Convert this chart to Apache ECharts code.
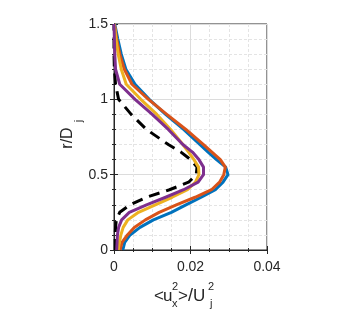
<!DOCTYPE html>
<html>
<head>
<meta charset="utf-8">
<script src="https://cdn.jsdelivr.net/npm/echarts@6/dist/echarts.min.js"></script>
<style>
html,body{margin:0;padding:0;background:#fff;}
#c{width:358px;height:311px;}
</style>
</head>
<body>
<div id="c"></div>
<script>
// radial positions r/Dj (shared by all series)
const rVals = [0,0.05,0.1,0.15,0.2,0.25,0.3,0.35,0.4,0.45,0.5,0.55,0.6,0.65,0.7,0.8,0.9,1.0,1.1,1.2,1.3,1.4,1.5];
// <ux^2>/Uj^2 for each profile
const blueVals   = [0.0023,0.0028,0.0042,0.0068,0.0103,0.0150,0.0188,0.0228,0.0265,0.0285,0.0298,0.0292,0.0268,0.0246,0.0225,0.0182,0.0135,0.0092,0.0055,0.0031,0.0019,0.0010,0.0002];
const orangeVals = [0.0016,0.0021,0.0035,0.0053,0.0082,0.0118,0.0163,0.0212,0.0255,0.0276,0.0287,0.0291,0.0278,0.0256,0.0234,0.0188,0.0138,0.0090,0.0047,0.0027,0.0015,0.0007,0.0001];
const yellowVals = [0.0011,0.0014,0.0018,0.0024,0.0036,0.0064,0.0108,0.0152,0.0192,0.0213,0.0222,0.0221,0.0209,0.0195,0.0180,0.0148,0.0112,0.0070,0.0032,0.0019,0.0011,0.0005,0.0001];
const purpleVals = [0.0007,0.0008,0.0009,0.0012,0.0020,0.0040,0.0085,0.0135,0.0182,0.0220,0.0234,0.0234,0.0222,0.0205,0.0180,0.0142,0.0100,0.0055,0.0015,0.0004,0.0002,0.0001,0.0000];
const blackVals  = [0.0003,0.0003,0.0003,0.0004,0.0006,0.0015,0.0042,0.0085,0.0145,0.0195,0.0215,0.0217,0.0200,0.0175,0.0142,0.0085,0.0045,0.0012,0.0004,0.0001,0.0000,0.0000,0.0000];
// axis ticks
const xTicks = [0, 0.02, 0.04];
const yTicks = [0, 0.5, 1, 1.5];

const FONT = '"Liberation Sans", Arial, Helvetica, sans-serif';
const AX = '#262626';

function pairs(vals){ return vals.map((v,i)=>[v, rVals[i]]); }
function lineSeries(vals, color, dashed, z){
  return {
    type:'line', data: pairs(vals), showSymbol:false, symbol:'none', clip:false,
    lineStyle:{color: color, width: 3, type: dashed ? [11,7] : 'solid', cap:'butt', join:'round'},
    z: z, animation:false
  };
}

const chart = echarts.init(document.getElementById('c'), null, {renderer:'canvas'});
const xCommon = {type:'value', min:xTicks[0], max:xTicks[xTicks.length-1], interval:xTicks[1]-xTicks[0]};
const yCommon = {type:'value', min:yTicks[0], max:yTicks[yTicks.length-1], interval:yTicks[1]-yTicks[0]};

chart.setOption({
  animation:false,
  backgroundColor:'#fff',
  grid:{left:114, top:24, right:91, bottom:61, show:true, borderColor:AX, borderWidth:1, backgroundColor:'transparent'},
  xAxis:[
    Object.assign({}, xCommon, {
      position:'bottom',
      axisLine:{show:true, lineStyle:{color:AX, width:1}},
      axisTick:{show:true, inside:true, length:4, lineStyle:{color:AX}},
      minorTick:{show:true, splitNumber:4, length:2, lineStyle:{color:AX}},
      axisLabel:{show:true, color:AX, fontSize:14, fontFamily:FONT, margin:10,
        formatter:v=>{ const i = xTicks.findIndex(t=>Math.abs(t-v)<1e-9); return i>=0 ? String(xTicks[i]) : ''; }},
      splitLine:{show:true, lineStyle:{color:'#dcdcdc', width:1}},
      minorSplitLine:{show:true, lineStyle:{color:'#e4e4e4', width:1, type:[3,2]}}
    }),
    Object.assign({}, xCommon, {
      position:'top',
      axisLine:{show:true, lineStyle:{color:AX, width:1}},
      axisTick:{show:true, inside:true, length:4, lineStyle:{color:AX}},
      minorTick:{show:true, splitNumber:4, length:2, lineStyle:{color:AX}},
      axisLabel:{show:false}, splitLine:{show:false}
    })
  ],
  yAxis:[
    Object.assign({}, yCommon, {
      position:'left',
      axisLine:{show:true, lineStyle:{color:AX, width:1}},
      axisTick:{show:true, inside:true, length:4, lineStyle:{color:AX}},
      minorTick:{show:true, splitNumber:5, length:2, lineStyle:{color:AX}},
      axisLabel:{show:true, color:AX, fontSize:14, fontFamily:FONT, margin:6,
        formatter:v=>{ const i = yTicks.findIndex(t=>Math.abs(t-v)<1e-9); return i>=0 ? String(yTicks[i]) : ''; }},
      splitLine:{show:true, lineStyle:{color:'#dcdcdc', width:1}},
      minorSplitLine:{show:true, lineStyle:{color:'#e4e4e4', width:1, type:[3,2]}}
    }),
    Object.assign({}, yCommon, {
      position:'right',
      axisLine:{show:true, lineStyle:{color:AX, width:1}},
      axisTick:{show:true, inside:true, length:4, lineStyle:{color:AX}},
      minorTick:{show:true, splitNumber:5, length:2, lineStyle:{color:AX}},
      axisLabel:{show:false}, splitLine:{show:false}
    })
  ],
  series:[
    lineSeries(blackVals,  '#000000', true, 2),
    lineSeries(blueVals,   '#0072BD', false, 3),
    lineSeries(orangeVals, '#D95319', false, 3),
    lineSeries(yellowVals, '#EDB120', false, 3),
    lineSeries(purpleVals, '#7E2F8E', false, 3)
  ],
  graphic:[
    // x-axis label: <u_x^2>/U_j^2
    {type:'text', left:154, top:288, style:{text:'<', fontSize:17, fontFamily:FONT, fill:AX}},
    {type:'text', left:163, top:288, style:{text:'u', fontSize:17, fontFamily:FONT, fill:AX}},
    {type:'text', left:172, top:281, style:{text:'2', fontSize:11, fontFamily:FONT, fill:AX}},
    {type:'text', left:172, top:298, style:{text:'x', fontSize:11, fontFamily:FONT, fill:AX}},
    {type:'text', left:178, top:288, style:{text:'>', fontSize:17, fontFamily:FONT, fill:AX}},
    {type:'text', left:188, top:287, style:{text:'/', fontSize:18, fontFamily:FONT, fill:AX}},
    {type:'text', left:193, top:288, style:{text:'U', fontSize:17, fontFamily:FONT, fill:AX}},
    {type:'text', left:208, top:281, style:{text:'2', fontSize:11, fontFamily:FONT, fill:AX}},
    {type:'text', left:210, top:298, style:{text:'j', fontSize:11, fontFamily:FONT, fill:AX}},
    // y-axis label: r/D_j (rotated)
    {type:'text', x:68, y:138, rotation:Math.PI/2, style:{text:'r/D', fontSize:16, fontFamily:FONT, fill:AX, align:'center', verticalAlign:'middle'}},
    {type:'text', x:79, y:121, rotation:Math.PI/2, style:{text:'j', fontSize:11, fontFamily:FONT, fill:AX, align:'center', verticalAlign:'middle'}}
  ]
});
</script>
</body>
</html>
